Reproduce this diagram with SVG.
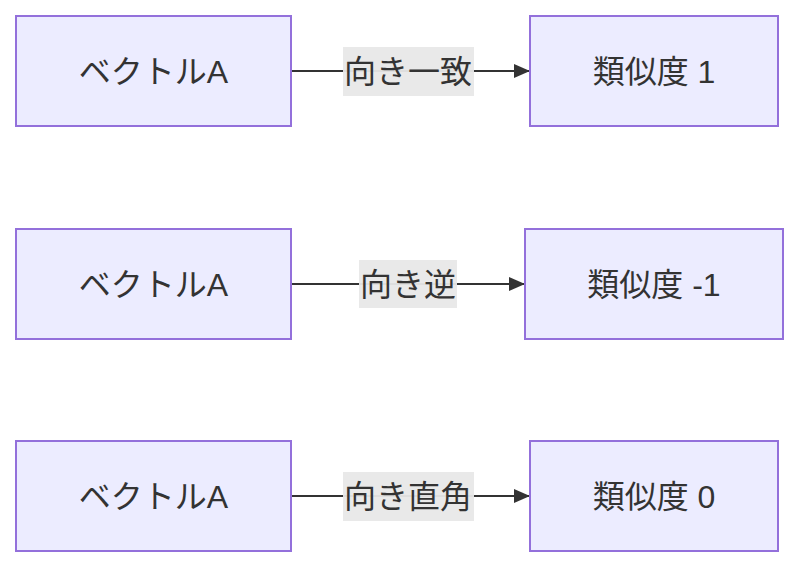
<svg xmlns="http://www.w3.org/2000/svg" width="800" height="568" viewBox="0 0 800 568">
<style>
.node rect{fill:#ECECFF;stroke:#9370DB;stroke-width:2}
.t{font-family:"Liberation Sans","Noto Sans CJK JP",sans-serif;font-size:32px;fill:#333;text-anchor:middle;dominant-baseline:central}
.e{stroke:#333;stroke-width:2;fill:none}
.lb{fill:#E8E8E8;opacity:0.95}
</style>
<defs>
<marker id="arr" viewBox="0 0 16 14" refX="16" refY="7" markerWidth="16" markerHeight="14" markerUnits="userSpaceOnUse" orient="auto">
<path d="M0,0 L16,7 L0,14 z" fill="#333"/>
</marker>
</defs>
<rect width="800" height="568" fill="#fff"/>
<g id="edges">
<path class="e" d="M292,71 L530,71" marker-end="url(#arr)"/>
<path class="e" d="M292,284 L525,284" marker-end="url(#arr)"/>
<path class="e" d="M292,496 L530,496" marker-end="url(#arr)"/>
</g>
<g id="edge-labels">
<rect class="lb" x="343" y="47" width="131" height="49"/>
<text class="t" x="408" y="72">向き一致</text>
<rect class="lb" x="359" y="260" width="98" height="48"/>
<text class="t" x="408" y="285">向き逆</text>
<rect class="lb" x="343" y="472" width="131" height="49"/>
<text class="t" x="408" y="497">向き直角</text>
</g>
<g id="a1" class="node"><rect x="16" y="16" width="275" height="110"/><text class="t" x="153.5" y="72">ベクトルA</text></g>
<g id="s1" class="node"><rect x="530" y="16" width="248" height="110"/><text class="t" x="654" y="72">類似度 1</text></g>
<g id="a2" class="node"><rect x="16" y="229" width="275" height="110"/><text class="t" x="153.5" y="285">ベクトルA</text></g>
<g id="s2" class="node"><rect x="525" y="229" width="258" height="110"/><text class="t" x="654" y="285">類似度 -1</text></g>
<g id="a3" class="node"><rect x="16" y="441" width="275" height="110"/><text class="t" x="153.5" y="497">ベクトルA</text></g>
<g id="s3" class="node"><rect x="530" y="441" width="248" height="110"/><text class="t" x="654" y="497">類似度 0</text></g>
</svg>
